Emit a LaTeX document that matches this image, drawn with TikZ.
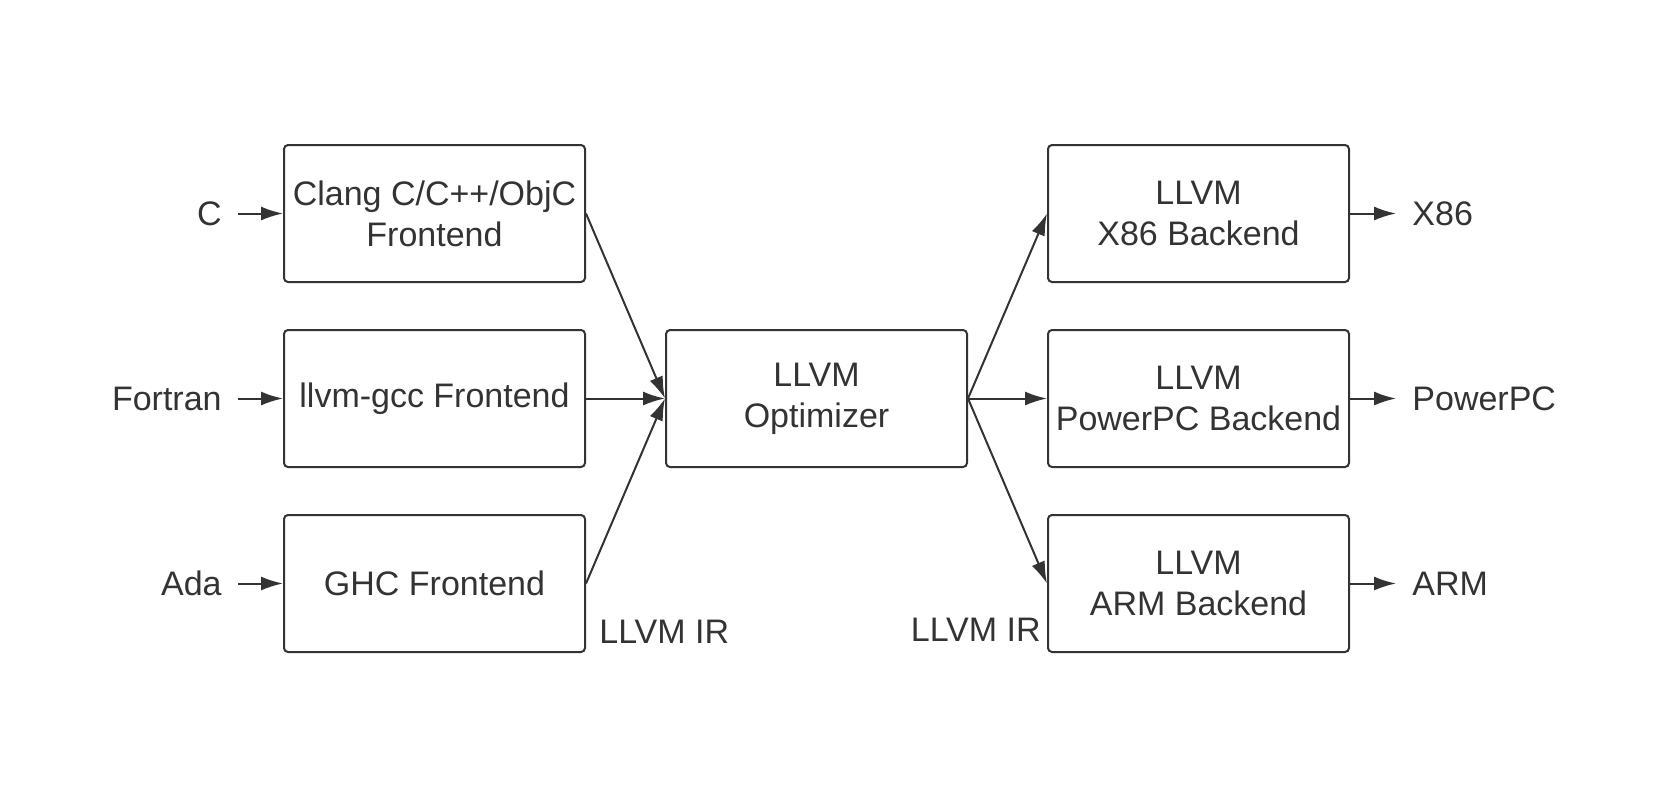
\documentclass[tikz,border=0pt]{standalone}
\usepackage{fontspec}
\setmainfont{Liberation Sans}
\usetikzlibrary{arrows.meta}
\definecolor{ink}{HTML}{333333}

\begin{document}
\begin{tikzpicture}[>={Latex[length=11pt,width=7pt]}, node distance=92.5pt,
    font=\fontsize{17pt}{20.5pt}\selectfont, color=ink]
  \tikzstyle{block} = [rectangle, draw, line width=1pt, rounded corners=2pt, align=center,
                                    inner sep=2pt, minimum width=150.5pt, minimum height=68.5pt]
  \tikzstyle{lbl} = [inner xsep=8pt, inner ysep=2pt]
  \tikzstyle{link} = [->, line width=1pt]
\useasboundingbox (0,0) rectangle (832pt,-399pt);
\node[block] (clang) at (217.25pt,-106.75pt) {Clang C/C++/ObjC\\Frontend};
\node[block, below of=clang] (gcc) {llvm-gcc Frontend};
\node[block, below of=gcc] (ghc) {GHC Frontend};
\node[block, right of=gcc, xshift=98.5pt] (opt) {LLVM\\Optimizer};
\node[block, right of=opt, xshift=98.5pt] (ppc) {LLVM\\PowerPC Backend};
\node[block, above of=ppc] (x86) {LLVM\\X86 Backend};
\node[block, below of=ppc] (arm) {LLVM\\ARM Backend};
% languages in, targets out
\node[lbl, anchor=east, xshift=-22.5pt] (c) at (clang.west) {C};
\node[lbl, anchor=east, xshift=-22.5pt] (fortran) at (gcc.west) {Fortran};
\node[lbl, anchor=east, xshift=-22.5pt] (ada) at (ghc.west) {Ada};
\node[lbl, anchor=west, xshift=23pt] (x86out) at (x86.east) {X86};
\node[lbl, anchor=west, xshift=23pt] (ppcout) at (ppc.east) {PowerPC};
\node[lbl, anchor=west, xshift=23pt] (armout) at (arm.east) {ARM};
\node[lbl, anchor=base west, xshift=-1.5pt, yshift=5pt] (irin) at (ghc.south east) {LLVM IR};
\node[lbl, anchor=base east, xshift=5pt, yshift=6pt] (irout) at (arm.south west) {LLVM IR};
\draw[link] (c) -- (clang);
\draw[link] (fortran) -- (gcc);
\draw[link] (ada) -- (ghc);
\draw[link] (clang.east) -- (opt.west);
\draw[link] (gcc.east) -- (opt.west);
\draw[link] (ghc.east) -- (opt.west);
\draw[link] (opt.east) -- (x86.west);
\draw[link] (opt.east) -- (ppc.west);
\draw[link] (opt.east) -- (arm.west);
\draw[link] (x86) -- (x86out);
\draw[link] (ppc) -- (ppcout);
\draw[link] (arm) -- (armout);
\end{tikzpicture}
\end{document}
